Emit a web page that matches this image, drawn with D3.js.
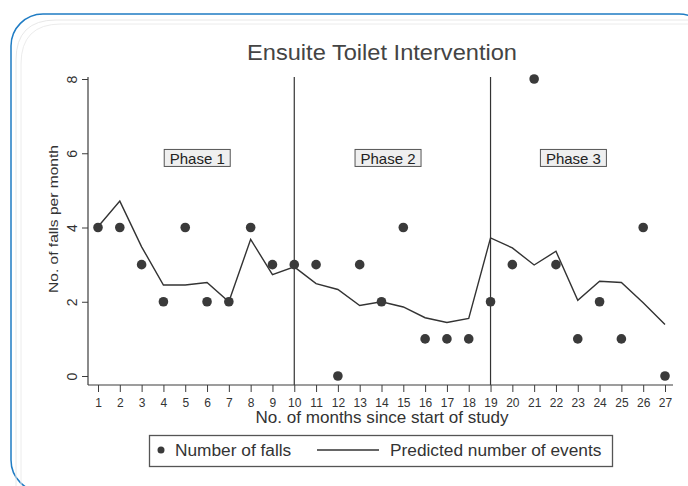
<!DOCTYPE html>
<html>
<head>
<meta charset="utf-8">
<script src="https://cdn.jsdelivr.net/npm/d3@7"></script>
<style>
  html, body { margin: 0; padding: 0; background: #fff; }
  svg { display: block; font-family: "Liberation Sans", Arial, sans-serif; }
</style>
</head>
<body>
<svg id="chart" width="688" height="486"></svg>
<script>
const months = d3.range(1, 28);
const falls = [4,4,3,2,4,2,2,4,3,3,3,0,3,2,4,1,1,1,2,3,8,3,1,2,1,4,0];
const predicted = [4.02,4.71,3.48,2.45,2.45,2.52,2.0,3.68,2.73,2.94,2.49,2.33,1.9,2.0,1.86,1.57,1.44,1.55,3.72,3.45,2.99,3.36,2.04,2.55,2.52,1.97,1.39];
const yTicks = [0,2,4,6,8];
const phaseBreaks = [10, 19];
const phaseLabels = ["Phase 1", "Phase 2", "Phase 3"];
const phaseLabelX = [5.55, 14.3, 22.8];
const phaseLabelY = 5.86;
const titleText = "Ensuite Toilet Intervention";
const xTitle = "No. of months since start of study";
const yTitle = "No. of falls per month";
const legendLabels = ["Number of falls", "Predicted number of events"];

const svg = d3.select("#chart");
const ink = "#3c3c3c";

// frame
svg.append("rect").attr("x", 11).attr("y", 14).attr("width", 700).attr("height", 478)
  .attr("rx", 32).attr("fill", "none").attr("stroke", "#1f7cc4").attr("stroke-width", 1.5);
svg.append("path").attr("d", "M16,486 L16,60 Q16,20 56,20 L688,20")
  .attr("fill", "none").attr("stroke", "#e8e8e8").attr("stroke-width", 1);
svg.append("path").attr("d", "M21,486 L21,64 Q21,24 61,24 L688,24")
  .attr("fill", "none").attr("stroke", "#ececec").attr("stroke-width", 1);

const x = d3.scaleLinear().domain([1, 27]).range([98, 665]);
const y = d3.scaleLinear().domain([0, 8]).range([376, 79]);
const axisX = 88, axisY = 385, axisTop = 77, axisRight = 673;

// title
svg.append("text").attr("x", 382).attr("y", 60).attr("text-anchor", "middle")
  .attr("font-size", 22).attr("fill", "#444")
  .attr("textLength", 270).attr("lengthAdjust", "spacingAndGlyphs").text(titleText);

// phase separators
svg.selectAll("line.phase").data(phaseBreaks).enter().append("line")
  .attr("x1", d => x(d)).attr("x2", d => x(d))
  .attr("y1", axisTop).attr("y2", axisY)
  .attr("stroke", "#333").attr("stroke-width", 1.2);

// x axis
const gx = svg.append("g").attr("transform", `translate(0,${axisY})`)
  .call(d3.axisBottom(x).tickValues(months).tickFormat(d3.format("d")).tickSize(7).tickPadding(6).tickSizeOuter(0));
gx.select(".domain").remove();
gx.selectAll(".tick line").attr("stroke", ink);
gx.selectAll(".tick text").attr("font-size", 12).attr("fill", "#333").attr("font-family", "Liberation Sans, Arial, sans-serif");
svg.append("line").attr("x1", axisX).attr("x2", axisRight).attr("y1", axisY).attr("y2", axisY)
  .attr("stroke", ink).attr("stroke-width", 1.2);

// y axis
const gy = svg.append("g").attr("transform", `translate(${axisX},0)`)
  .call(d3.axisLeft(y).tickValues(yTicks).tickSize(6).tickFormat(d3.format("d")).tickSizeOuter(0));
gy.select(".domain").remove();
gy.selectAll(".tick line").attr("stroke", ink);
gy.selectAll(".tick text").remove();
gy.selectAll(".tick").append("text")
  .attr("transform", "translate(-16,0) rotate(-90)")
  .attr("text-anchor", "middle").attr("dy", "0.35em")
  .attr("font-size", 14).attr("fill", "#333")
  .attr("font-family", "Liberation Sans, Arial, sans-serif")
  .text(d => d);
svg.append("line").attr("x1", axisX).attr("x2", axisX).attr("y1", axisTop).attr("y2", axisY)
  .attr("stroke", ink).attr("stroke-width", 1.2);

// axis titles
svg.append("text").attr("x", 382).attr("y", 423).attr("text-anchor", "middle")
  .attr("font-size", 17).attr("fill", "#333")
  .attr("textLength", 253).attr("lengthAdjust", "spacingAndGlyphs").text(xTitle);
svg.append("text").attr("transform", "translate(58,219) rotate(-90)")
  .attr("text-anchor", "middle").attr("font-size", 13).attr("fill", "#333")
  .attr("textLength", 148).attr("lengthAdjust", "spacingAndGlyphs").text(yTitle);

// phase labels
phaseLabels.forEach((t, i) => {
  const cx = x(phaseLabelX[i]), cy = y(phaseLabelY);
  svg.append("rect").attr("x", cx - 33).attr("y", cy - 9).attr("width", 66).attr("height", 17)
    .attr("fill", "#efefef").attr("stroke", "#555").attr("stroke-width", 1);
  svg.append("text").attr("x", cx).attr("y", cy + 5.5).attr("text-anchor", "middle")
    .attr("font-size", 15).attr("fill", "#222").text(t);
});

// predicted line
svg.append("path").datum(months.map((m, i) => [m, predicted[i]]))
  .attr("fill", "none").attr("stroke", "#333").attr("stroke-width", 1.4)
  .attr("d", d3.line().x(d => x(d[0])).y(d => y(d[1])));

// falls points
svg.selectAll("circle.fall").data(months.map((m, i) => [m, falls[i]])).enter().append("circle")
  .attr("cx", d => x(d[0])).attr("cy", d => y(d[1])).attr("r", 4.8).attr("fill", "#3a3a3a");

// legend
const lg = svg.append("g");
lg.append("rect").attr("x", 149.5).attr("y", 435.5).attr("width", 463).attr("height", 31)
  .attr("fill", "#fff").attr("stroke", "#555").attr("stroke-width", 1.3);
lg.append("circle").attr("cx", 161).attr("cy", 450).attr("r", 3.5).attr("fill", "#3a3a3a");
lg.append("text").attr("x", 175).attr("y", 456).attr("font-size", 17.3).attr("fill", "#333").text(legendLabels[0]);
lg.append("line").attr("x1", 317).attr("x2", 379).attr("y1", 450).attr("y2", 450)
  .attr("stroke", "#333").attr("stroke-width", 1.4);
lg.append("text").attr("x", 390).attr("y", 456).attr("font-size", 17.3).attr("fill", "#333").text(legendLabels[1]);
</script>
</body>
</html>
